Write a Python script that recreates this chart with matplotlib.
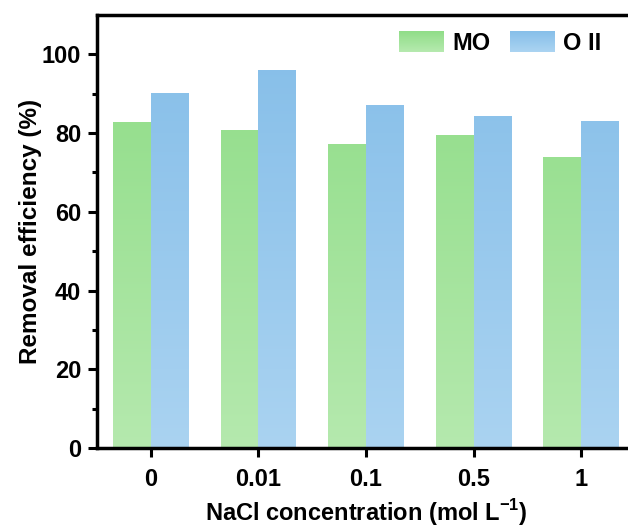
import numpy as np
import matplotlib
matplotlib.use('Agg')
import matplotlib.pyplot as plt
from matplotlib.patches import Rectangle
from matplotlib.colors import LinearSegmentedColormap
from matplotlib.legend_handler import HandlerBase

plt.rcParams['font.family'] = ['Liberation Sans', 'DejaVu Sans']
plt.rcParams['font.weight'] = 'bold'
plt.rcParams['mathtext.fontset'] = 'custom'
plt.rcParams['mathtext.rm'] = 'Liberation Sans:bold'
plt.rcParams['mathtext.bf'] = 'Liberation Sans:bold'

# data
concentrations = ['0', '0.01', '0.1', '0.5', '1']
mo = [82.8, 80.8, 77.3, 79.5, 74.0]
oii = [90.2, 96.0, 87.1, 84.4, 83.1]

series = [('MO', mo, '#b5e9ae', '#90dd88'), ('O II', oii, '#aad3f1', '#87bfe9')]
width = 0.35

fig = plt.figure(figsize=(6.28, 5.31), dpi=100)
ax = fig.add_axes([0.1545, 0.1563, 1.011 - 0.1545, 0.9718 - 0.1563])

x = np.arange(len(concentrations))
grad = np.linspace(0, 1, 256).reshape(-1, 1)


def gradient_bar(ax, xc, h, c_bot, c_top):
    cmap = LinearSegmentedColormap.from_list('g', [c_bot, c_top])
    rect = Rectangle((xc - width / 2, 0), width, h, facecolor='none', edgecolor='none')
    ax.add_patch(rect)
    im = ax.imshow(grad, cmap=cmap, origin='lower', aspect='auto',
                   extent=[xc - width / 2, xc + width / 2, 0, 100], zorder=1)
    im.set_clip_path(rect)


for k, (name, vals, cb, ct) in enumerate(series):
    off = (k - 0.5) * width
    for xi, v in zip(x, vals):
        gradient_bar(ax, xi + off, v, cb, ct)


class GradHandler(HandlerBase):
    def __init__(self, cb, ct):
        super().__init__()
        self.cb, self.ct = cb, ct

    def create_artists(self, legend, orig_handle, xdescent, ydescent, width, height, fontsize, trans):
        cmap = LinearSegmentedColormap.from_list('g', [self.cb, self.ct])
        n = 20
        arts = []
        for i in range(n):
            r = Rectangle((-xdescent, -ydescent + height * i / n), width, height / n + 0.3,
                          facecolor=cmap(i / (n - 1)), edgecolor='none', transform=trans)
            arts.append(r)
        return arts


handles = [Rectangle((0, 0), 1, 1) for _ in series]
hmap = {h: GradHandler(s[2], s[3]) for h, s in zip(handles, series)}
fig.legend(handles, [s[0] for s in series], handler_map=hmap, ncol=2, frameon=False,
           loc='upper left', bbox_to_anchor=(399 / 628, 1 - 31 / 531), fontsize=17,
           borderpad=0, borderaxespad=0,
           handlelength=1.9, handleheight=1.0, columnspacing=0.85, handletextpad=0.35)

ax.set_xlim(-0.5, 4.5)
ax.set_ylim(0, 110)
ax.set_xticks(x)
ax.set_xticklabels(concentrations)
ax.set_yticks([0, 20, 40, 60, 80, 100])
ax.set_yticks(np.arange(10, 110, 20), minor=True)
ax.tick_params(axis='both', which='major', direction='out', length=6.5, width=2.2, labelsize=17, pad=5)
ax.tick_params(axis='y', which='minor', direction='out', length=3.5, width=2.2)
ax.tick_params(axis='x', which='major', pad=8)
for sp in ax.spines.values():
    sp.set_linewidth(2.5)

ax.set_xlabel('NaCl concentration (mol L$^{-1}$)', fontsize=17, fontweight='bold', labelpad=4)
ax.set_ylabel('Removal efficiency (%)', fontsize=17.5, fontweight='bold', labelpad=0)

fig.savefig('out.png', dpi=100)
